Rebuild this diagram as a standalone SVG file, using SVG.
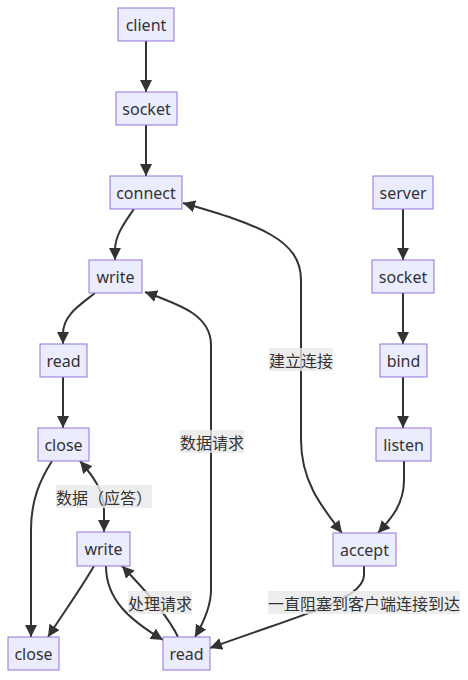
<svg xmlns="http://www.w3.org/2000/svg" width="468" height="680" viewBox="0 0 468 680">
<style>
.node rect{fill:#ECECFF;stroke:#9370DB;stroke-width:1}
.node text{font-family:"Noto Sans","DejaVu Sans",sans-serif;font-size:16px;fill:#333;text-anchor:middle;dominant-baseline:central}
.edges path{fill:none;stroke:#333;stroke-width:2}
.lbl rect{fill:#e8e8e8;fill-opacity:0.8}
.lbl text{font-family:"Noto Sans CJK SC","Noto Sans",sans-serif;font-size:16px;fill:#333;text-anchor:middle;dominant-baseline:central}
</style>
<defs>
<marker id="ah" viewBox="0 0 10 10" refX="10" refY="5" markerUnits="userSpaceOnUse" markerWidth="12" markerHeight="12" orient="auto-start-reverse">
<path d="M0,0 L10,5 L0,10 z" fill="#333"/>
</marker>
</defs>
<rect width="468" height="680" fill="#fff"/>
<g class="edges">
<path d="M146,41 L146,92" marker-end="url(#ah)"/>
<path d="M146,125 L146,176" marker-end="url(#ah)"/>
<path d="M134,209 C125,222 115,235 115,250 L115,260" marker-end="url(#ah)"/>
<path d="M95,293 C80,305 63,315 63,334 L63,344" marker-end="url(#ah)"/>
<path d="M63,377 L63,428" marker-end="url(#ah)"/>
<path d="M52,461 C40,480 31,500 31,530 L31,637" marker-end="url(#ah)"/>
<path d="M80,461 C92,475 104,490 104,510 L104,532" marker-start="url(#ah)" marker-end="url(#ah)"/>
<path d="M94,566 C80,590 62,615 48,637" marker-end="url(#ah)"/>
<path d="M106,566 C106,600 130,620 163,640" marker-end="url(#ah)"/>
<path d="M178,637 C170,620 150,595 122,566" marker-end="url(#ah)"/>
<path d="M145,292 C180,305 211,315 211,345 L211,590 C211,605 205,620 195,637" marker-start="url(#ah)" marker-end="url(#ah)"/>
<path d="M183,203 C260,225 301,240 301,280 L301,440 C301,480 320,505 342,533" marker-start="url(#ah)" marker-end="url(#ah)"/>
<path d="M403,209 L403,260" marker-end="url(#ah)"/>
<path d="M403,293 L403,344" marker-end="url(#ah)"/>
<path d="M403,377 L403,428" marker-end="url(#ah)"/>
<path d="M404,461 L404,480 C404,505 390,520 378,533" marker-end="url(#ah)"/>
<path d="M364,566 L364,575 C364,600 300,615 210,648" marker-end="url(#ah)"/>
</g>
<g class="lbl" id="label-jianli"><rect x="269" y="348" width="64" height="23"/><text x="301" y="359.5">建立连接</text></g>
<g class="lbl" id="label-qingqiu"><rect x="180" y="430" width="64" height="23"/><text x="212" y="441.5">数据请求</text></g>
<g class="lbl" id="label-yingda"><rect x="56" y="485" width="96" height="23"/><text x="104" y="496.5">数据（应答）</text></g>
<g class="lbl" id="label-chuli"><rect x="128" y="591" width="64" height="23"/><text x="160" y="602.5">处理请求</text></g>
<g class="lbl" id="label-zuse"><rect x="268" y="591" width="192" height="23"/><text x="364" y="602.5">一直阻塞到客户端连接到达</text></g>
<g class="node" id="client"><rect x="118" y="8" width="56" height="33"/><text x="146" y="24.5">client</text></g>
<g class="node" id="csocket"><rect x="116" y="92" width="61" height="33"/><text x="146.5" y="108.5">socket</text></g>
<g class="node" id="connect"><rect x="110" y="176" width="72" height="33"/><text x="146" y="192.5">connect</text></g>
<g class="node" id="cwrite"><rect x="89" y="260" width="53" height="33"/><text x="115.5" y="276.5">write</text></g>
<g class="node" id="cread"><rect x="40" y="344" width="47" height="33"/><text x="63.5" y="360.5">read</text></g>
<g class="node" id="cclose"><rect x="38" y="428" width="51" height="33"/><text x="63.5" y="444.5">close</text></g>
<g class="node" id="swrite"><rect x="77" y="532" width="53" height="34"/><text x="103.5" y="549">write</text></g>
<g class="node" id="sclose"><rect x="8" y="637" width="51" height="33"/><text x="33.5" y="653.5">close</text></g>
<g class="node" id="sread"><rect x="163" y="637" width="47" height="33"/><text x="186.5" y="653.5">read</text></g>
<g class="node" id="server"><rect x="373" y="176" width="60" height="33"/><text x="403" y="192.5">server</text></g>
<g class="node" id="ssocket"><rect x="372" y="260" width="62" height="33"/><text x="403" y="276.5">socket</text></g>
<g class="node" id="bind"><rect x="380" y="344" width="47" height="33"/><text x="403.5" y="360.5">bind</text></g>
<g class="node" id="listen"><rect x="376" y="428" width="55" height="33"/><text x="403.5" y="444.5">listen</text></g>
<g class="node" id="accept"><rect x="333" y="533" width="63" height="33"/><text x="364.5" y="549.5">accept</text></g>
</svg>
